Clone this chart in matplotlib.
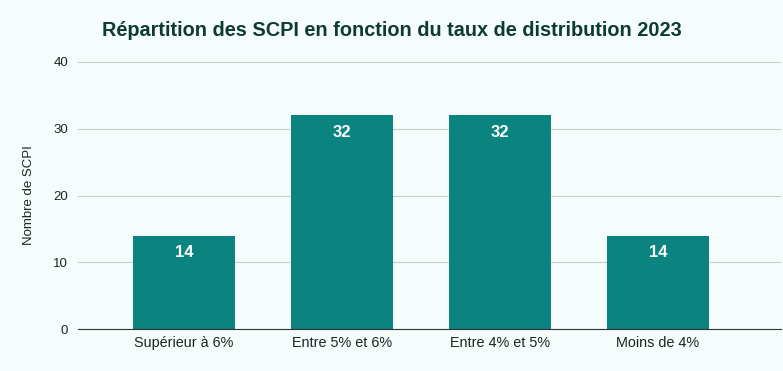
import matplotlib
matplotlib.use("Agg")
import matplotlib.pyplot as plt

categories = ["Supérieur à 6%", "Entre 5% et 6%", "Entre 4% et 5%", "Moins de 4%"]
counts = [14, 32, 32, 14]
yticks = [0, 10, 20, 30, 40]

plt.rcParams['font.family'] = ['Liberation Sans', 'DejaVu Sans']

bg = '#f5fcfc'
bar_color = '#0b837f'

fig = plt.figure(figsize=(7.83, 3.71), dpi=100, facecolor=bg)
ax = fig.add_axes([78/783, 1 - 329/371, 703/783, 267/371], facecolor=bg)

x = list(range(len(categories)))
bars = ax.bar(x, counts, width=0.645, color=bar_color, zorder=3)

for xi, v in zip(x, counts):
    ax.annotate(str(v), (xi, v), xytext=(0, -12), textcoords='offset points',
                ha='center', va='center', color='white', fontsize=12,
                fontweight='bold', zorder=4)

ax.set_ylim(0, 40)
ax.set_xlim(-0.67, 3.78)
ax.set_yticks(yticks)
ax.set_xticks(x)
ax.set_xticklabels(categories, fontsize=10.4)
ax.grid(axis='y', color='#cccccc', linewidth=0.8, zorder=0)
for s in ['top', 'right', 'left']:
    ax.spines[s].set_visible(False)
ax.spines['bottom'].set_color('#333333')
ax.spines['bottom'].set_zorder(5)
ax.tick_params(axis='y', length=0, labelsize=9.5, colors='#222222', pad=7)
ax.tick_params(axis='x', length=0, colors='#222222', pad=5)

ax.set_ylabel("Nombre de SCPI", fontsize=9.5, color='#222222', labelpad=13)

fig.text(392/783, 1 - 31/371, "Répartition des SCPI en fonction du taux de distribution 2023",
         ha='center', va='center', fontsize=14.3, fontweight='bold', color='#0d3b34')

fig.savefig("out.png", dpi=100, facecolor=bg)
